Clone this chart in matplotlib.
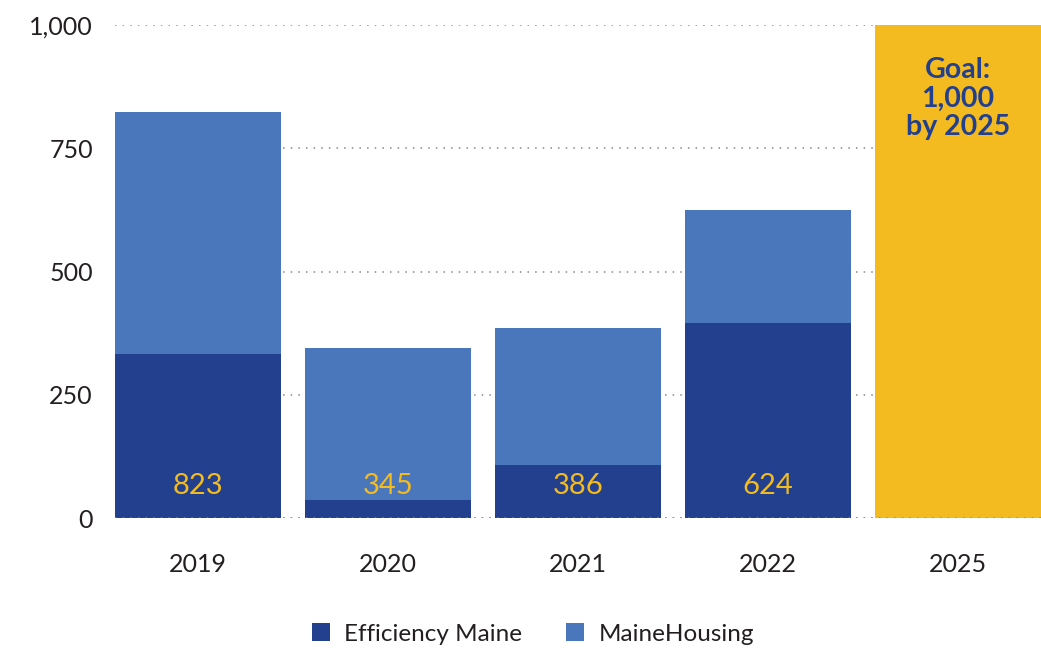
import matplotlib
matplotlib.use('Agg')
import matplotlib.pyplot as plt
import numpy as np

# values
years = ['2019', '2020', '2021', '2022', '2025']
efficiency_maine = [333, 37, 108, 396]
maine_housing = [490, 308, 278, 228]
totals = [823, 345, 386, 624]
goal = 1000

dark_blue = '#23408e'
light_blue = '#4a77bb'
gold = '#f3bb1f'
text_col = '#231f20'

plt.rcParams['font.family'] = ['Lato', 'DejaVu Sans']

fig = plt.figure(figsize=(10.41, 6.5), dpi=100)
ax = fig.add_axes([115 / 1041, 1 - 518 / 650, 1 - 115 / 1041, (518 - 25) / 650])

width = 166 / 190
x = np.arange(len(years))

ax.bar(x[:4], efficiency_maine, width, color=dark_blue, label='Efficiency Maine', zorder=2)
ax.bar(x[:4], maine_housing, width, bottom=efficiency_maine, color=light_blue,
       label='MaineHousing', zorder=2)
ax.bar(x[4], goal, width, color=gold, zorder=2)

for xi, t in zip(x[:4], totals):
    ax.text(xi, 65, f'{t:,}', ha='center', va='center', color=gold,
            fontsize=21, zorder=3)

ax.text(x[4], 850, 'Goal:\n1,000\nby 2025', ha='center', va='center', color=dark_blue,
        fontsize=20.5, fontweight='bold', linespacing=1.12, zorder=3)

ax.set_xlim(-width / 2, 4 + width / 2)
ax.set_ylim(0, 1000)
ax.set_yticks([0, 250, 500, 750, 1000])
ax.set_yticklabels(['0', '250', '500', '750', '1,000'])
ax.set_xticks(x)
ax.set_xticklabels(years)

ax.grid(axis='y', color='#888888', linestyle=(0, (1, 4)), linewidth=1.1, zorder=1)
ax.axhline(0, color='#888888', linestyle=(0, (1, 4)), linewidth=1.1, zorder=3)
ax.set_axisbelow(True)
for s in ax.spines.values():
    s.set_visible(False)
ax.tick_params(axis='both', length=0, labelsize=18, labelcolor=text_col)
ax.tick_params(axis='y', pad=16)
ax.tick_params(axis='x', pad=25)

fig.legend(loc='center', bbox_to_anchor=(533 / 1041, 1 - 634 / 650), ncol=2, frameon=False,
           fontsize=17.5, handlelength=0.75, handleheight=0.75,
           columnspacing=1.8, handletextpad=0.6, labelcolor=text_col)

fig.savefig('out.png', dpi=100)
